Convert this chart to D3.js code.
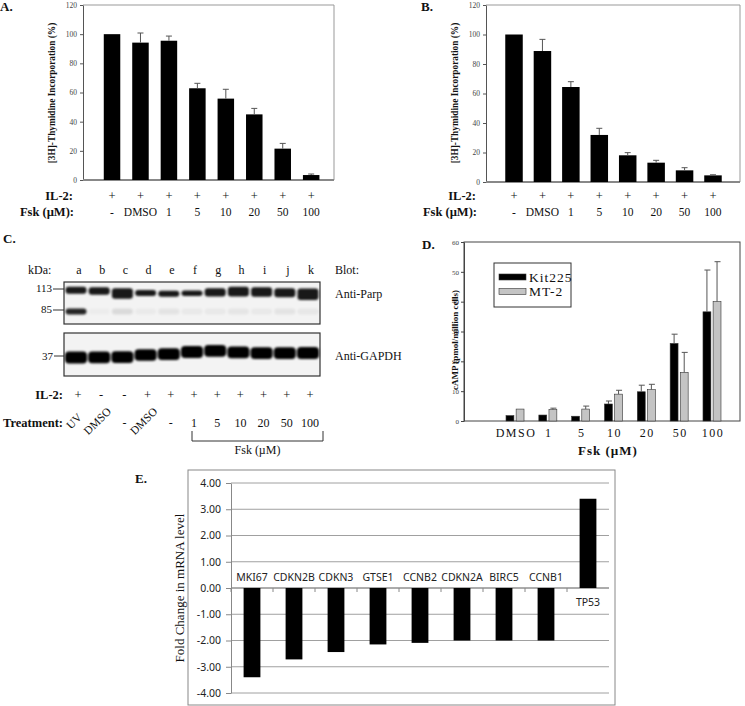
<!DOCTYPE html>
<html><head><meta charset="utf-8">
<script src="https://cdn.jsdelivr.net/npm/d3@7"></script>
<style>html,body{margin:0;padding:0;background:#fff}</style>
</head><body>
<script>
// ---------------- DATA ----------------
const fskCats = ['-','DMSO','1','5','10','20','50','100'];
const il2AB = ['+','+','+','+','+','+','+','+'];
const thymA = [100, 94.2, 95.5, 62.9, 55.8, 45.0, 21.5, 3.4];
const thymAErr = [0, 6.6, 3.2, 3.4, 6.4, 4.1, 3.6, 0.7];
const thymB = [100, 88.8, 64.4, 31.9, 18.1, 13.1, 7.9, 4.5];
const thymBErr = [0, 7.9, 3.6, 4.5, 1.8, 1.6, 1.8, 0.4];
const thymTicks = [0,20,40,60,80,100,120];

const lanes = ['a','b','c','d','e','f','g','h','i','j','k'];
const parpKDa = [111.0, 110.0, 106.3, 107.0, 106.0, 106.6, 107.8, 109.0, 108.5, 107.3, 105.2];
const parpSignal = [0.45, 0.5, 0.9, 0.3, 0.3, 0.25, 0.6, 0.8, 0.72, 0.7, 1.0];
const cleavedKDa = 83.4;
const cleavedSignal = [1, 0.03, 0.12, 0.04, 0.08, 0.05, 0.05, 0.07, 0.05, 0.08, 0.06];
const gapdhKDa = [36.3, 36.3, 36.4, 37.5, 38.0, 39.1, 39.7, 38.9, 38.5, 38.5, 38.6];
const gapdhSignal = [1, 0.9, 0.95, 0.8, 0.9, 0.95, 0.9, 0.95, 0.95, 0.95, 1];
const parpMarkers = [113, 85];
const gapdhMarkers = [37];
const il2C = ['+','-','-','+','+','+','+','+','+','+','+'];
const treatC = ['UV','DMSO','-','DMSO','-','1','5','10','20','50','100'];
const treatRot = [true,true,false,true,false,false,false,false,false,false,false];

const campCats = ['DMSO','1','5','10','20','50','100'];
const kit225 = [1.8, 2.0, 1.6, 5.7, 9.8, 26.0, 36.6];
const kit225Err = [0, 0, 0, 1.0, 2.2, 3.1, 14.0];
const mt2 = [4.0, 3.8, 4.0, 9.0, 10.5, 16.3, 40.0];
const mt2Err = [0, 0.5, 1.0, 1.3, 1.8, 6.7, 13.4];
const campTicks = [0,10,20,30,40,50,60];
const seriesD = ['Kit225','MT-2'];

const genes = ['MKI67','CDKN2B','CDKN3','GTSE1','CCNB2','CDKN2A','BIRC5','CCNB1','TP53'];
const foldChange = [-3.40, -2.72, -2.44, -2.15, -2.09, -2.00, -2.00, -2.00, 3.40];
const foldTicks = [-4,-3,-2,-1,0,1,2,3,4];

// ---------------- SETUP ----------------
const serif = "'Liberation Serif','Times New Roman',serif";
const sans = "'Noto Sans','Open Sans',sans-serif";
const svg = d3.select('body').append('svg').attr('width',745).attr('height',706)
  .style('background','#fff');
svg.append('rect').attr('width',745).attr('height',706).attr('fill','#fff');
const defs = svg.append('defs');
defs.append('filter').attr('id','blur').attr('x','-20%').attr('y','-50%').attr('width','140%').attr('height','200%')
  .append('feGaussianBlur').attr('stdDeviation',0.9);

function txt(g, x, y, s, o={}) {
  const t = g.append('text').attr('x',x).attr('y',y).text(s)
    .attr('font-family', o.ff || serif).attr('font-size', o.fs || 12)
    .attr('font-weight', o.fw || 'normal').attr('fill', o.fill || '#111')
    .attr('text-anchor', o.anchor || 'start').attr('dominant-baseline','central');
  if (o.ls) t.attr('letter-spacing', o.ls);
  if (o.rot) t.attr('transform', `rotate(${o.rot},${x},${y})`);
  return t;
}

// ---------------- PANELS A & B ----------------
function thymPanel(vals, errs, c) {
  const g = svg.append('g');
  const y = d3.scaleLinear().domain([0,120]).range([c.y0, 5]);
  const x = d3.scalePoint().domain(fskCats).range([c.xr0, c.xr1]).padding(0.5);
  g.append('path').attr('d',`M${c.ax},5H${c.right}V${c.y0}`).attr('fill','none').attr('stroke','#999').attr('stroke-width',1);
  const ax = d3.axisLeft(y).tickValues(thymTicks).tickSize(3).tickSizeOuter(0).tickPadding(3).tickFormat(d3.format('d'));
  g.append('g').attr('transform',`translate(${c.ax},0)`).call(ax).call(s=>{
    s.select('.domain').attr('stroke','#555');
    s.selectAll('.tick line').attr('stroke','#555');
    s.selectAll('.tick text').attr('font-family',serif).attr('font-size',7.5).attr('fill','#444');
  });
  g.append('line').attr('x1',c.ax).attr('x2',c.right).attr('y1',c.y0).attr('y2',c.y0).attr('stroke','#888').attr('stroke-width',2);
  g.selectAll('rect.bar').data(vals).join('rect').attr('class','bar')
    .attr('x',(d,i)=>x(fskCats[i])-c.bw/2).attr('width',c.bw)
    .attr('y',d=>y(d)).attr('height',d=>c.y0-y(d)).attr('fill','#000');
  vals.forEach((v,i)=>{
    if (!errs[i]) return;
    const cx = x(fskCats[i]);
    g.append('path').attr('d',`M${cx},${y(v)}V${y(v+errs[i])}M${cx-3},${y(v+errs[i])}H${cx+3}`)
      .attr('stroke','#555').attr('stroke-width',1).attr('fill','none');
  });
  fskCats.forEach((cat,i)=>{
    txt(g, x(cat), 196, il2AB[i], {anchor:'middle', fs:12.5});
    txt(g, x(cat), 211.5, cat, {anchor:'middle', fs:11.5});
  });
  txt(g, c.lbl, 196, 'IL-2:', {anchor:'end', fw:'bold', fs:12.5});
  txt(g, c.lbl+1, 211.5, 'Fsk (\u00b5M):', {anchor:'end', fw:'bold', fs:12.5});
  txt(g, c.titleX, 93, '[3H]-Thymidine Incorporation (%)', {anchor:'middle', fw:'bold', fs:9.3, rot:-90});
  txt(g, c.pX, c.pY, c.panel, {fw:'bold', fs:13});
}
thymPanel(thymA, thymAErr, {y0:180, ax:83, right:334, xr0:97.8, xr1:325.4, bw:16.5, lbl:73, titleX:52, panel:'A.', pX:0, pY:6});
thymPanel(thymB, thymBErr, {y0:182, ax:486, right:740, xr0:499.8, xr1:727.2, bw:17.5, lbl:476, titleX:455, panel:'B.', pX:421, pY:6});

// ---------------- PANEL C (blot) ----------------
(function(){
  const g = svg.append('g');
  const x = d3.scalePoint().domain(lanes).range([77, 309]);
  const yP = d3.scaleLog().domain([113,85]).range([289,310]);
  const yG = d3.scaleLog().domain([37,40]).range([356,350.3]);
  txt(g, 3, 238, 'C.', {fw:'bold', fs:13});
  txt(g, 28, 270, 'kDa:', {fs:12});
  lanes.forEach(l=>txt(g, x(l)+2, 270, l, {anchor:'middle', fs:12}));
  txt(g, 335, 270, 'Blot:', {fs:12});
  txt(g, 335, 294, 'Anti-Parp', {fs:12});
  txt(g, 335, 356, 'Anti-GAPDH', {fs:12});
  // boxes
  [[282,324],[333,376]].forEach(([t,b])=>{
    g.append('rect').attr('x',64).attr('y',t).attr('width',256).attr('height',b-t)
      .attr('fill','#f3f3f3').attr('stroke','#333').attr('stroke-width',1.2);
  });
  // markers
  parpMarkers.forEach(m=>{
    txt(g, 52, yP(m)-1, String(m), {anchor:'end', fs:11});
    g.append('line').attr('x1',53).attr('x2',64).attr('y1',yP(m)).attr('y2',yP(m)).attr('stroke','#333');
  });
  gapdhMarkers.forEach(m=>{
    txt(g, 53, yG(m), String(m), {anchor:'end', fs:11});
    g.append('line').attr('x1',54).attr('x2',64).attr('y1',yG(m)).attr('y2',yG(m)).attr('stroke','#333');
  });
  const bands = g.append('g').attr('filter','url(#blur)');
  const bw = 21;
  lanes.forEach((l,i)=>{
    const cx = x(l) - 1;
    const hP = 3.5 + 8*parpSignal[i];
    bands.append('rect').attr('x',cx-bw/2).attr('y',yP(parpKDa[i])-hP/2).attr('width',bw).attr('height',hP)
      .attr('rx',3).attr('fill','#000').attr('opacity',0.9);
    const hC = 6;
    bands.append('rect').attr('x',cx-bw/2).attr('y',yP(cleavedKDa)-hC/2).attr('width',bw).attr('height',hC)
      .attr('rx',3).attr('fill','#000').attr('opacity',cleavedSignal[i]*0.85);
    const hG = 9 + 3*gapdhSignal[i];
    bands.append('rect').attr('x',cx-bw/2-0.5).attr('y',yG(gapdhKDa[i])-hG/2).attr('width',bw+1).attr('height',hG)
      .attr('rx',4).attr('fill','#000');
  });
  // IL-2 and treatment rows
  txt(g, 63, 395, 'IL-2:', {anchor:'end', fw:'bold', fs:12.5});
  txt(g, 63, 423, 'Treatment:', {anchor:'end', fw:'bold', fs:12.5});
  lanes.forEach((l,i)=>{
    txt(g, x(l)+1, 395, il2C[i], {anchor:'middle', fs:12.5});
    if (treatRot[i]) txt(g, x(l)-3, 421, treatC[i], {anchor:'middle', fs:11.5, rot:-45});
    else txt(g, x(l)+1, 423, treatC[i], {anchor:'middle', fs:12});
  });
  const bx0 = x('f')-1, bx1 = x('k')+14;
  g.append('path').attr('d',`M${bx0},431V441H${bx1}V431`).attr('fill','none').attr('stroke','#333');
  txt(g, (bx0+bx1)/2, 450, 'Fsk (\u00b5M)', {anchor:'middle', fs:12});
})();

// ---------------- PANEL D ----------------
(function(){
  const g = svg.append('g');
  const y = d3.scaleLinear().domain([0,60]).range([421,242]);
  const x = d3.scaleBand().domain(campCats).range([498.6,728.4]);
  const xs = d3.scaleBand().domain(seriesD).range([-9,9]).paddingInner(0.22);
  g.append('rect').attr('x',464).attr('y',242).attr('width',276).attr('height',179)
    .attr('fill','none').attr('stroke','#444').attr('stroke-width',1);
  const ax = d3.axisLeft(y).tickValues(campTicks).tickSize(3).tickSizeOuter(0).tickPadding(2).tickFormat(d3.format('d'));
  g.append('g').attr('transform','translate(464,0)').call(ax).call(s=>{
    s.select('.domain').attr('stroke','#444');
    s.selectAll('.tick line').attr('stroke','#444');
    s.selectAll('.tick text').attr('font-family',serif).attr('font-size',7).attr('fill','#444');
  });
  const data = [kit225, mt2], errs = [kit225Err, mt2Err], fills = ['#000','#c4c4c4'];
  seriesD.forEach((s,si)=>{
    campCats.forEach((c,i)=>{
      const v = data[si][i];
      const bx = x(c) + x.bandwidth()/2 + xs(s);
      g.append('rect').attr('x',bx).attr('width',xs.bandwidth()).attr('y',y(v)).attr('height',421-y(v))
        .attr('fill',fills[si]).attr('stroke','#333').attr('stroke-width',0.6);
      const e = errs[si][i];
      if (e) {
        const cx = bx + xs.bandwidth()/2;
        g.append('path').attr('d',`M${cx},${y(v)}V${y(v+e)}M${cx-2.5},${y(v+e)}H${cx+3.5}`)
          .attr('stroke','#555').attr('fill','none').attr('stroke-width',1);
      }
    });
  });
  campCats.forEach(c=>txt(g, x(c)+x.bandwidth()/2+1, 433, c, {anchor:'middle', fs:12, ls:1.5}));
  txt(g, 608, 450, 'Fsk (\u00b5M)', {anchor:'middle', fw:'bold', fs:13, ls:1});
  txt(g, 455, 340, 'cAMP (pmol/million cells)', {anchor:'middle', fw:'bold', fs:9, rot:-90});
  txt(g, 422, 244, 'D.', {fw:'bold', fs:13});
  // legend
  g.append('rect').attr('x',494).attr('y',263).attr('width',77).attr('height',44).attr('fill','#fff').attr('stroke','#333');
  seriesD.forEach((s,si)=>{
    const ly = 277 + si*14.5;
    g.append('rect').attr('x',499).attr('y',ly-3).attr('width',27).attr('height',6).attr('fill',fills[si]).attr('stroke','#333').attr('stroke-width',0.6);
    txt(g, 529, ly, s, {fs:13.5, ls:1});
  });
})();

// ---------------- PANEL E ----------------
(function(){
  const g = svg.append('g');
  const y = d3.scaleLinear().domain([-4,4]).range([693,483]);
  const x = d3.scaleBand().domain(genes).range([231,609]).paddingInner(0.6).paddingOuter(0.3);
  txt(g, 135, 478, 'E.', {fw:'bold', fs:13});
  g.append('rect').attr('x',188).attr('y',470).attr('width',427).attr('height',235).attr('fill','none').attr('stroke','#888');
  foldTicks.forEach(t=>{
    g.append('line').attr('x1',231).attr('x2',609).attr('y1',y(t)).attr('y2',y(t)).attr('stroke','#a0a0a0');
  });
  const ax = d3.axisLeft(y).tickValues(foldTicks).tickSize(5).tickSizeOuter(0).tickPadding(5).tickFormat(d=>d.toFixed(2));
  g.append('g').attr('transform','translate(231,0)').call(ax).call(s=>{
    s.select('.domain').attr('stroke','#888');
    s.selectAll('.tick line').attr('stroke','#888');
    s.selectAll('.tick text').attr('font-family',sans).attr('font-size',10.5).attr('fill','#222');
  });
  const step = x.step();
  const y0 = y(0);
  g.append('line').attr('x1',231).attr('x2',609).attr('y1',y0).attr('y2',y0).attr('stroke','#888');
  genes.forEach((gn,i)=>{
    const b = x(gn) - x.paddingInner()*step/2;
    g.append('line').attr('x1',b).attr('x2',b).attr('y1',y0).attr('y2',y0+4).attr('stroke','#888');
  });
  g.selectAll('rect.bar').data(foldChange).join('rect').attr('class','bar')
    .attr('x',(d,i)=>x(genes[i])).attr('width',x.bandwidth())
    .attr('y',d=>Math.min(y(d),y0)).attr('height',d=>Math.abs(y(d)-y0)).attr('fill','#000');
  genes.forEach((gn,i)=>{
    const ly = foldChange[i] < 0 ? y0-11 : y0+14;
    txt(g, x(gn)+x.bandwidth()/2, ly, gn, {anchor:'middle', ff:sans, fs:10.5, fill:'#222'});
  });
  txt(g, 179, 588, 'Fold Change in mRNA level', {anchor:'middle', fs:13, rot:-90});
})();
</script>
</body></html>
